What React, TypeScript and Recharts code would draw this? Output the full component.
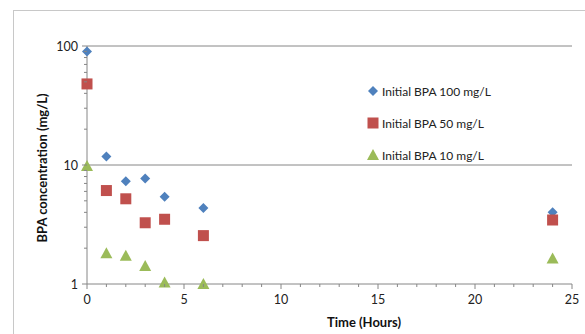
import { ScatterChart, Scatter, XAxis, YAxis, ReferenceLine } from 'recharts';

const hours = [0, 1, 2, 3, 4, 6, 24];
const bpa100 = [90, 11.8, 7.3, 7.7, 5.4, 4.35, 4.0];
const bpa50 = [48, 6.1, 5.2, 3.27, 3.5, 2.55, 3.45];
const bpa10 = [9.8, 1.81, 1.73, 1.42, 1.03, 1.0, 1.64];

const seriesNames = ['Initial BPA 100 mg/L', 'Initial BPA 50 mg/L', 'Initial BPA 10 mg/L'];
const xTicks = Array.from({ length: 26 }, (_, i) => i);
const xMajor = [0, 5, 10, 15, 20, 25];
const yTicks = [1, 2, 3, 4, 5, 6, 7, 8, 9, 10, 20, 30, 40, 50, 60, 70, 80, 90, 100];
const yMajor = [1, 10, 100];

const AXIS = '#868686';
const FONT = 'Lato, "Open Sans", sans-serif';
const COLORS = ['#4F81BD', '#C0504D', '#9BBB59'];

const toPoints = (vals: number[]) => hours.map((h, i) => ({ x: h, y: vals[i] }));

function Diamond({ cx, cy, fill }: any) {
  const r = 5;
  return <path d={`M${cx},${cy - r}L${cx + r},${cy}L${cx},${cy + r}L${cx - r},${cy}Z`} fill={fill} />;
}

function Square({ cx, cy, fill }: any) {
  const r = 5.5;
  return <rect x={cx - r} y={cy - r} width={r * 2} height={r * 2} fill={fill} />;
}

function Triangle({ cx, cy, fill }: any) {
  return <path d={`M${cx},${cy - 6}L${cx + 6},${cy + 5}L${cx - 6},${cy + 5}Z`} fill={fill} />;
}

const SHAPES = [Diamond, Square, Triangle];

function XTick({ x, y, payload }: any) {
  const major = xMajor.includes(payload.value);
  return (
    <g>
      <line x1={x} x2={x} y1={y} y2={y + (major ? 5 : 3)} stroke={AXIS} />
      {major && (
        <text x={x} y={y + 20} textAnchor="middle" fontSize={12.5} fontFamily={FONT} fill="#222">
          {payload.value}
        </text>
      )}
    </g>
  );
}

function YTick({ x, y, payload }: any) {
  const major = yMajor.includes(payload.value);
  return (
    <g>
      <line x1={x - (major ? 5 : 3)} x2={x} y1={y} y2={y} stroke={AXIS} />
      {major && (
        <text x={x - 9} y={y + 4.5} textAnchor="end" fontSize={12.5} fontFamily={FONT} fill="#222">
          {payload.value}
        </text>
      )}
    </g>
  );
}

function XTitle() {
  return (
    <text x={364} y={327} textAnchor="middle" fontSize={13} fontWeight="bold" fontFamily={FONT} fill="#111">
      Time (Hours)
    </text>
  );
}

function YTitle() {
  return (
    <text
      x={42}
      y={168}
      transform="rotate(-90 42 168)"
      textAnchor="middle"
      dominantBaseline="central"
      fontSize={13}
      fontWeight="bold"
      fontFamily={FONT}
      fill="#111"
    >
      BPA concentration (mg/L)
    </text>
  );
}

function LegendBox() {
  return (
    <div style={{ fontFamily: FONT, fontSize: 12, color: '#222' }}>
      {seriesNames.map((name, i) => {
        const Shape = SHAPES[i];
        return (
          <div key={name} style={{ display: 'flex', alignItems: 'center', height: 32 }}>
            <svg width={14} height={14} style={{ marginRight: 2 }}>
              <Shape cx={7} cy={7} fill={COLORS[i]} />
            </svg>
            <span>{name}</span>
          </div>
        );
      })}
    </div>
  );
}

export default function App() {
  return (
    <div style={{ position: 'fixed', left: 0, top: 0, width: 585, height: 334, overflow: 'hidden', background: '#fff' }}>
      <div
        style={{
          position: 'absolute',
          left: 13,
          top: 10,
          width: 700,
          height: 400,
          border: '1px solid #c8c8c8',
        }}
      />
      <div style={{ position: 'absolute', left: 0, top: 0 }}>
        <ScatterChart width={585} height={334} margin={{ top: 46, right: 13, bottom: 20, left: 27 }}>
          <XAxis
            type="number"
            dataKey="x"
            domain={[0, 25]}
            ticks={xTicks}
            interval={0}
            tickSize={0}
            tickMargin={0}
            tickLine={false}
            tick={<XTick />}
            height={30}
            stroke={AXIS}
            label={<XTitle />}
          />
          <YAxis
            type="number"
            dataKey="y"
            scale="log"
            domain={[1, 100]}
            ticks={yTicks}
            interval={0}
            tickSize={0}
            tickMargin={0}
            tickLine={false}
            tick={<YTick />}
            width={60}
            stroke={AXIS}
            label={<YTitle />}
          />
          <ReferenceLine y={10} stroke={AXIS} />
          <ReferenceLine y={100} stroke={AXIS} />
          {seriesNames.map((name, i) => (
            <Scatter
              key={name}
              name={name}
              data={toPoints([bpa100, bpa50, bpa10][i])}
              fill={COLORS[i]}
              shape={SHAPES[i]}
              isAnimationActive={false}
            />
          ))}
        </ScatterChart>
      </div>
      <div style={{ position: 'absolute', left: 366, top: 75 }}>
        <LegendBox />
      </div>
    </div>
  );
}
